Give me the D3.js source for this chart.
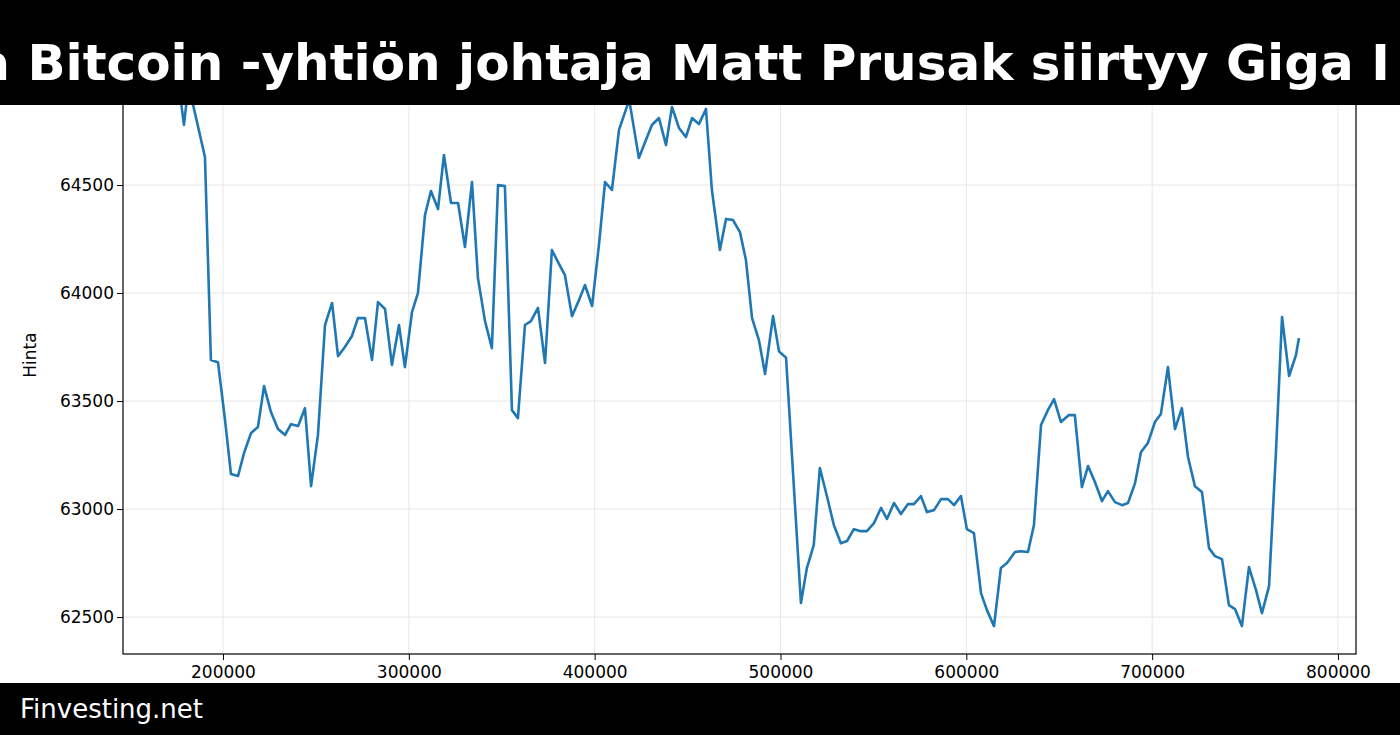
<!DOCTYPE html>
<html><head><meta charset="utf-8">
<script src="https://cdn.jsdelivr.net/npm/d3@7"></script>
<style>body{margin:0;background:#fff}svg{display:block;font-family:"DejaVu Sans",sans-serif}</style>
</head><body><svg id="c" width="1400" height="735"></svg>
<script>
const titleText = "a Bitcoin -yhtiön johtaja Matt Prusak siirtyy Giga I";
const footerText = "Finvesting.net";
const yLabel = "Hinta";
const xTicks = [200000,300000,400000,500000,600000,700000,800000];
const yTicks = [62500,63000,63500,64000,64500];
const xs = [176300,179000,181200,183300,190300,193500,197300,201100,204300,208100,
211300,215100,218800,222100,225800,229600,233400,236600,240400,244100,
247400,251100,254900,258700,261900,265600,269400,272600,276400,280200,
283400,287200,290900,294700,297900,301700,304900,308700,311900,315700,
318900,322700,326500,330200,334000,337200,341000,344700,348000,351700,
355500,358700,362500,365700,369500,373300,377000,380300,384000,387800,
391600,394800,398600,402300,405600,409300,413100,418600,423800,
427600,430800,434600,438400,441600,445400,449100,452400,456100,459900,
463100,467400,470700,474400,478200,481400,484700,488400,491700,496000,
499200,503000,
511000,514200,517900,521200,525500,528700,532500,535800,539500,542800,
546500,550300,554100,557300,561100,564800,568600,571800,575600,578800,
582600,586400,590100,593400,597100,600300,604100,607900,611100,614900,
618600,621900,626200,629400,633200,636400,640200,643900,647200,650900,
655200,658400,662200,665500,669200,673000,676200,680000,683800,687000,
690800,694000,697700,701500,704700,708500,712300,716000,719300,723000,
726800,730600,733800,737600,741300,744600,748300,752100,755900,759100,
762900,766600,769900,773700,777400,779000];
const prices = [64960,64778,64950,64894,64630,63690,63680,63412,63162,63153,
63259,63352,63380,63569,63449,63370,63343,63393,63384,63467,
63106,63343,63852,63954,63708,63750,63801,63884,63884,
63690,63958,63926,63667,63852,63657,63912,64000,64361,64472,
64389,64639,64417,64417,64213,64514,64069,63870,63745,64500,
64495,63458,63421,63852,63870,63931,63676,64199,64143,64083,
63893,63968,64037,63940,64222,64514,64477,64755,64894,64625,
64708,64778,64810,64685,64861,64764,64722,64810,64782,64852,
64477,64199,64343,64338,64282,64153,63884,63782,63625,63893,
63730,63700,
62565,62727,62833,63190,63042,62926,62842,62852,62907,62898,
62898,62935,63005,62954,63028,62977,63023,63023,63060,62986,
62995,63046,63046,63018,63060,62907,62889,62611,62532,62458,
62727,62750,62801,62805,62801,62926,63389,63458,63509,63403,
63435,63435,63102,63199,63125,63037,63083,63032,63018,63028,
63120,63264,63305,63403,63440,63657,63370,63467,63241,63106,
63079,62819,62782,62768,62555,62537,62458,62731,62625,62518,
62643,63259,63889,63616,63713,63792];

const svg = d3.select("#c");
const L=123,R=1356,B=654,T=77;
const x = d3.scaleLinear().domain([146190,809700]).range([L,R]);
const y = d3.scaleLinear().domain([62329,65000]).range([B,T]);

svg.append("clipPath").attr("id","cp").append("rect").attr("x",L).attr("y",T).attr("width",R-L).attr("height",B-T);
const g = svg.append("g");
g.selectAll(".gx").data(xTicks).join("line").attr("x1",d=>x(d)).attr("x2",d=>x(d)).attr("y1",T).attr("y2",B).attr("stroke","#e6e6e6").attr("stroke-width",1);
g.selectAll(".gy").data(yTicks).join("line").attr("y1",d=>y(d)).attr("y2",d=>y(d)).attr("x1",L).attr("x2",R).attr("stroke","#e6e6e6").attr("stroke-width",1);

const data = xs.map((v,i)=>[v,prices[i]]);
svg.append("path").datum(data).attr("clip-path","url(#cp)")
  .attr("d",d3.line().x(d=>x(d[0])).y(d=>y(d[1])))
  .attr("fill","none").attr("stroke","#1f77b4").attr("stroke-width",2.6).attr("stroke-linejoin","round");

svg.append("rect").attr("x",L).attr("y",T).attr("width",R-L).attr("height",B-T).attr("fill","none").attr("stroke","#000").attr("stroke-width",1.2);

const xa = svg.append("g").attr("transform",`translate(0,${B})`).call(d3.axisBottom(x).tickValues(xTicks).tickFormat(d3.format("d")).tickSize(6).tickSizeOuter(0));
xa.select(".domain").remove();
xa.selectAll("text").attr("font-size",17).attr("fill","#000").attr("dy","0.9em").attr("font-family","DejaVu Sans");
const ya = svg.append("g").attr("transform",`translate(${L},0)`).call(d3.axisLeft(y).tickValues(yTicks).tickFormat(d3.format("d")).tickSize(6).tickSizeOuter(0));
ya.select(".domain").remove();
ya.selectAll("text").attr("font-size",17).attr("fill","#000").attr("font-family","DejaVu Sans");
svg.append("text").attr("transform","translate(36,355) rotate(-90)").attr("text-anchor","middle").attr("font-size",17).text(yLabel);

svg.append("rect").attr("x",0).attr("y",0).attr("width",1400).attr("height",105).attr("fill","#000");
svg.append("text").attr("x",683).attr("y",80).attr("text-anchor","middle").attr("fill","#fff").attr("font-weight","bold").attr("font-size",50).text(titleText);
svg.append("rect").attr("x",0).attr("y",683).attr("width",1400).attr("height",52).attr("fill","#000");
svg.append("text").attr("x",20).attr("y",718).attr("fill","#fff").attr("font-size",26).text(footerText);
</script></body></html>
